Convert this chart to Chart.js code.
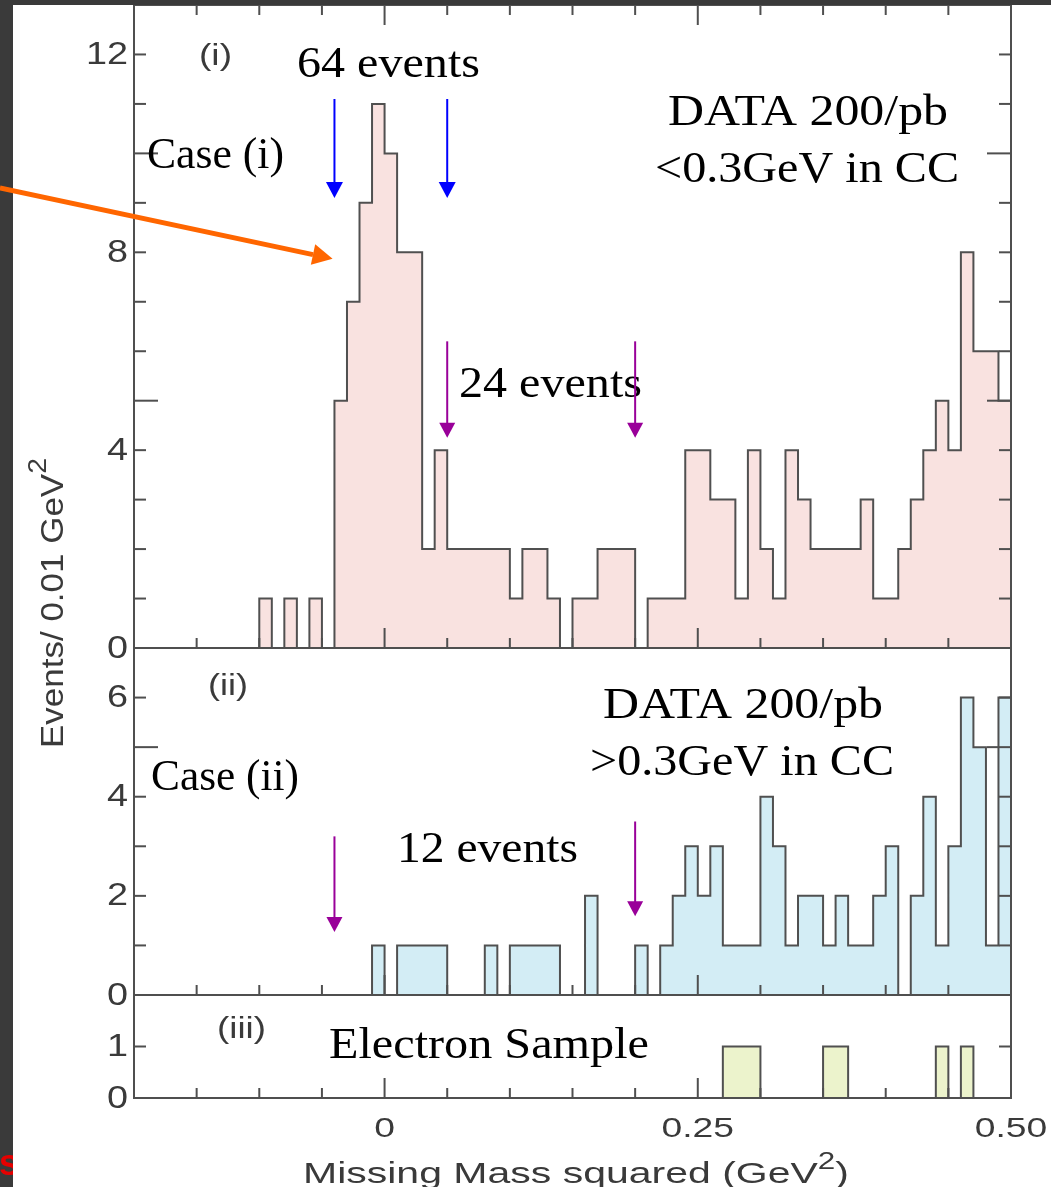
<!DOCTYPE html>
<html>
<head>
<meta charset="utf-8">
<title>Missing Mass squared</title>
<script src="https://cdn.jsdelivr.net/npm/chart.js@4.4.1/dist/chart.umd.min.js"></script>
<style>
html,body{margin:0;padding:0;background:#ffffff;overflow:hidden;}
#c{display:block;}
</style>
</head>
<body>
<canvas id="c" width="1051" height="1187"></canvas>
<script>
// ---------- data (bin lower edges in GeV^2, bin width 0.01) ----------
const binEdges = [
  -0.20,-0.19,-0.18,-0.17,-0.16,-0.15,-0.14,-0.13,-0.12,-0.11,
  -0.10,-0.09,-0.08,-0.07,-0.06,-0.05,-0.04,-0.03,-0.02,-0.01,
   0.00, 0.01, 0.02, 0.03, 0.04, 0.05, 0.06, 0.07, 0.08, 0.09,
   0.10, 0.11, 0.12, 0.13, 0.14, 0.15, 0.16, 0.17, 0.18, 0.19,
   0.20, 0.21, 0.22, 0.23, 0.24, 0.25, 0.26, 0.27, 0.28, 0.29,
   0.30, 0.31, 0.32, 0.33, 0.34, 0.35, 0.36, 0.37, 0.38, 0.39,
   0.40, 0.41, 0.42, 0.43, 0.44, 0.45, 0.46, 0.47, 0.48, 0.49,
   0.50
];
const countsCaseI = [
  0,0,0,0,0,0,0,0,0,0,
  1,0,1,0,1,0,5,7,9,11,
  10,8,8,2,4,2,2,2,2,2,
  1,2,2,1,0,1,1,2,2,2,
  0,1,1,1,4,4,3,3,1,4,
  2,1,4,3,2,2,2,2,3,1,
  1,2,3,4,5,4,8,6,6,5
];
const countsCaseII = [
  0,0,0,0,0,0,0,0,0,0,
  0,0,0,0,0,0,0,0,0,1,
  0,1,1,1,1,0,0,0,1,0,
  1,1,1,1,0,0,2,0,0,0,
  1,0,1,2,3,2,3,1,1,1,
  4,3,1,2,2,1,2,1,1,2,
  3,0,2,4,1,3,6,5,1,6
];
const countsElectron = [
  0,0,0,0,0,0,0,0,0,0,
  0,0,0,0,0,0,0,0,0,0,
  0,0,0,0,0,0,0,0,0,0,
  0,0,0,0,0,0,0,0,0,0,
  0,0,0,0,0,0,0,1,1,1,
  0,0,0,0,0,1,1,0,0,0,
  0,0,0,0,1,0,1,0,0,0
];
// tick labels
const xTickValues = [-0.15,-0.10,-0.05,0,0.05,0.10,0.15,0.20,0.25,0.30,0.35,0.40,0.45];
const xLongTicks = [0, 0.25];
const xLabelValues = [0, 0.25, 0.50];
const xLabelTexts = ['0', '0.25', '0.50'];
const yLabelsCaseI = [0, 4, 8, 12];
const yLabelsCaseII = [0, 2, 4, 6];
const yLabelsElectron = [0, 1];
// selection windows marked by arrows (GeV^2)
const windowCaseI = [-0.04, 0.05];
const windowCaseIb = [0.05, 0.20];
const windowCaseII = [-0.04, 0.20];

function histPoints(counts) {
  const pts = counts.map((v, i) => ({x: binEdges[i], y: v}));
  pts.push({x: binEdges[binEdges.length - 1], y: 0});
  return pts;
}

const SANS = '"Liberation Sans", Arial, Helvetica, sans-serif';
const SERIF = '"Liberation Serif", "Times New Roman", serif';

function line(c, x1, y1, x2, y2) { c.beginPath(); c.moveTo(x1, y1); c.lineTo(x2, y2); c.stroke(); }

// draws text, optionally stretched horizontally (to a target width or by a factor)
function txt(c, s, x, y, opt) {
  c.save();
  c.font = opt.font;
  c.fillStyle = opt.color || '#000';
  c.textBaseline = opt.baseline || 'alphabetic';
  c.textAlign = 'left';
  const w = c.measureText(s).width;
  const sx = opt.width ? opt.width / w : (opt.sx || 1);
  let x0 = x;
  if (opt.align === 'center') x0 = x - w * sx / 2;
  else if (opt.align === 'right') x0 = x - w * sx;
  c.translate(x0, y);
  c.scale(sx, 1);
  c.fillText(s, 0, 0);
  c.restore();
}

// text made of segments [{t, size, rise}] drawn along the baseline, stretched to width
function segText(c, segs, width) {
  let total = 0;
  segs.forEach(s => { c.font = s.size + 'px ' + SANS; s.w = c.measureText(s.t).width; total += s.w; });
  const sx = width / total;
  c.save();
  c.scale(sx, 1);
  let x = 0;
  segs.forEach(s => { c.font = s.size + 'px ' + SANS; c.fillText(s.t, x, -(s.rise || 0)); x += s.w; });
  c.restore();
}

function downArrow(c, x, yTop, yTip, color, lw, headW, headL) {
  c.save();
  c.strokeStyle = color; c.fillStyle = color; c.lineWidth = lw;
  line(c, x, yTop, x, yTip - headL + 1);
  c.beginPath();
  c.moveTo(x - headW / 2, yTip - headL);
  c.lineTo(x + headW / 2, yTip - headL);
  c.lineTo(x, yTip);
  c.closePath(); c.fill();
  c.restore();
}

function slantArrow(c, x1, y1, x2, y2, color, lw, headW, headL) {
  const a = Math.atan2(y2 - y1, x2 - x1);
  const bx = x2 - headL * Math.cos(a), by = y2 - headL * Math.sin(a);
  c.save();
  c.strokeStyle = color; c.fillStyle = color; c.lineWidth = lw; c.lineCap = 'butt';
  line(c, x1, y1, bx, by);
  c.beginPath();
  c.moveTo(x2, y2);
  c.lineTo(bx + headW / 2 * Math.sin(a), by - headW / 2 * Math.cos(a));
  c.lineTo(bx - headW / 2 * Math.sin(a), by + headW / 2 * Math.cos(a));
  c.closePath(); c.fill();
  c.restore();
}

const FRAME = '#4f4f4f';
const LABEL = '#3a3a3a';

const panelPlugin = {
  id: 'panels',
  beforeDraw(chart) {
    const c = chart.ctx;
    c.save();
    c.fillStyle = '#ffffff';
    c.fillRect(0, 0, chart.width, chart.height);
    c.restore();
  },
  afterDatasetsDraw(chart) {
    const c = chart.ctx, ca = chart.chartArea, xs = chart.scales.x;
    const panels = [
      {s: chart.scales.yA, longs: [5, 10], topTicks: true},
      {s: chart.scales.yB, longs: [5], topTicks: false},
      {s: chart.scales.yC, longs: [], topTicks: false}
    ];
    c.save();
    c.strokeStyle = FRAME;
    c.lineWidth = 2;
    // frame
    line(c, ca.left, ca.top - 1, ca.left, ca.bottom + 1);
    line(c, ca.right, ca.top - 1, ca.right, ca.bottom + 1);
    line(c, ca.left, ca.top, ca.right, ca.top);
    panels.forEach(p => line(c, ca.left - 1, p.s.bottom, ca.right + 1, p.s.bottom));
    // y ticks (inward, both sides)
    panels.forEach(p => {
      for (let v = p.s.min + 1; v < p.s.max; v++) {
        const y = p.s.getPixelForValue(v);
        const len = p.longs.includes(v) ? 24 : 12;
        line(c, ca.left, y, ca.left + len, y);
        line(c, ca.right - len, y, ca.right, y);
      }
      // x ticks
      xTickValues.forEach(v => {
        const x = xs.getPixelForValue(v);
        const len = xLongTicks.includes(v) ? 20 : 10;
        line(c, x, p.s.bottom, x, p.s.bottom - len);
        if (p.topTicks) line(c, x, p.s.top, x, p.s.top + len);
      });
    });
    c.restore();
  },
  afterDraw(chart) {
    const c = chart.ctx, ca = chart.chartArea, xs = chart.scales.x;
    const yA = chart.scales.yA, yB = chart.scales.yB, yC = chart.scales.yC;
    // dark slide margins
    c.save();
    c.fillStyle = '#3a3a3a';
    c.fillRect(0, 0, chart.width, ca.top);
    c.fillRect(0, 0, 13, chart.height);
    c.restore();

    // y tick labels
    const yl = {font: '31px ' + SANS, color: LABEL, align: 'right', baseline: 'middle', sx: 1.22};
    yLabelsCaseI.forEach(v => txt(c, String(v), ca.left - 6, yA.getPixelForValue(v) + 1, yl));
    yLabelsCaseII.forEach(v => txt(c, String(v), ca.left - 6, yB.getPixelForValue(v) + 1, yl));
    yLabelsElectron.forEach(v => txt(c, String(v), ca.left - 6, yC.getPixelForValue(v) + 1, yl));
    // x tick labels
    xLabelValues.forEach((v, i) => txt(c, xLabelTexts[i], xs.getPixelForValue(v), ca.bottom + 39,
      {font: '27px ' + SANS, color: LABEL, align: 'center', sx: 1.38}));

    // x axis title
    c.save();
    c.fillStyle = LABEL;
    c.translate(303, 1183);
    segText(c, [{t: 'Missing Mass squared (GeV', size: 30}, {t: '2', size: 23, rise: 14}, {t: ')', size: 30}], 546);
    c.restore();
    // y axis title (rotated)
    c.save();
    c.fillStyle = LABEL;
    c.translate(63, 748);
    c.rotate(-Math.PI / 2);
    segText(c, [{t: 'Events/ 0.01 GeV', size: 32}, {t: '2', size: 26, rise: 17}], 290);
    c.restore();

    // panel tags
    txt(c, '(i)', 199, 65, {font: '30px ' + SANS, color: LABEL, width: 33});
    txt(c, '(ii)', 208, 695, {font: '30px ' + SANS, color: LABEL, width: 40});
    txt(c, '(iii)', 217, 1038, {font: '30px ' + SANS, color: LABEL, width: 49});

    // serif annotations
    const sf = '44px ' + SERIF;
    txt(c, '64 events', 297, 77, {font: sf, width: 183});
    txt(c, 'Case (i)', 147, 168, {font: sf, width: 137});
    txt(c, 'DATA 200/pb', 808, 125, {font: sf, align: 'center', width: 280});
    txt(c, '<0.3GeV in CC', 807, 182, {font: sf, align: 'center', width: 304});
    txt(c, '24 events', 459, 397, {font: sf, width: 183});
    txt(c, 'Case (ii)', 151, 790, {font: sf, width: 148});
    txt(c, 'DATA 200/pb', 743, 718, {font: sf, align: 'center', width: 280});
    txt(c, '>0.3GeV in CC', 742, 775, {font: sf, align: 'center', width: 304});
    txt(c, '12 events', 397, 862, {font: sf, width: 181});
    txt(c, 'Electron Sample', 329, 1058, {font: sf, width: 320});

    // window arrows
    const blue = '#0000ff', purple = '#990099';
    windowCaseI.forEach(v => downArrow(c, xs.getPixelForValue(v), yA.getPixelForValue(11.1), yA.getPixelForValue(9.1), blue, 2, 17, 16));
    windowCaseIb.forEach(v => downArrow(c, xs.getPixelForValue(v), yA.getPixelForValue(6.2), yA.getPixelForValue(4.25), purple, 2, 16, 15));
    downArrow(c, xs.getPixelForValue(windowCaseII[0]), yB.getPixelForValue(3.2), yB.getPixelForValue(1.27), purple, 2, 16, 15);
    downArrow(c, xs.getPixelForValue(windowCaseII[1]), yB.getPixelForValue(3.5), yB.getPixelForValue(1.59), purple, 2, 16, 15);

    // orange pointer arrow
    slantArrow(c, xs.getPixelForValue(-0.307), yA.getPixelForValue(9.3),
      xs.getPixelForValue(-0.0415), yA.getPixelForValue(7.87), '#ff6600', 5, 21, 20);

    // clipped red letter at the slide edge
    c.save();
    c.beginPath(); c.rect(0, 0, 13, chart.height); c.clip();
    txt(c, 's', -1, 1175, {font: 'bold 36px ' + SANS, color: '#e60000'});
    c.restore();
  }
};

const hidden = {ticks: {display: false}, grid: {display: false, drawTicks: false}, border: {display: false}, title: {display: false}};

new Chart(document.getElementById('c'), {
  type: 'line',
  data: {
    datasets: [
      {label: 'Case (i)', data: histPoints(countsCaseI), yAxisID: 'yA', stepped: 'before', fill: 'origin',
       backgroundColor: '#f9e2e0', borderColor: '#505050', borderWidth: 2, pointRadius: 0},
      {label: 'Case (ii)', data: histPoints(countsCaseII), yAxisID: 'yB', stepped: 'before', fill: 'origin',
       backgroundColor: '#d3edf5', borderColor: '#505050', borderWidth: 2, pointRadius: 0},
      {label: 'Electron Sample', data: histPoints(countsElectron), yAxisID: 'yC', stepped: 'before', fill: 'origin',
       backgroundColor: '#ecf3cc', borderColor: '#505050', borderWidth: 2, pointRadius: 0}
    ]
  },
  options: {
    responsive: false,
    animation: false,
    devicePixelRatio: 1,
    layout: {padding: {left: 134, right: 40, top: 5, bottom: 89}},
    plugins: {legend: {display: false}, tooltip: {enabled: false}},
    scales: {
      x: Object.assign({type: 'linear', min: -0.2, max: 0.5}, hidden),
      yA: Object.assign({type: 'linear', position: 'left', stack: 'panels', stackWeight: 643, weight: 3, min: 0, max: 13}, hidden),
      yB: Object.assign({type: 'linear', position: 'left', stack: 'panels', stackWeight: 347, weight: 2, min: 0, max: 7}, hidden),
      yC: Object.assign({type: 'linear', position: 'left', stack: 'panels', stackWeight: 103, weight: 1, min: 0, max: 2}, hidden)
    }
  },
  plugins: [panelPlugin]
});
</script>
</body>
</html>
